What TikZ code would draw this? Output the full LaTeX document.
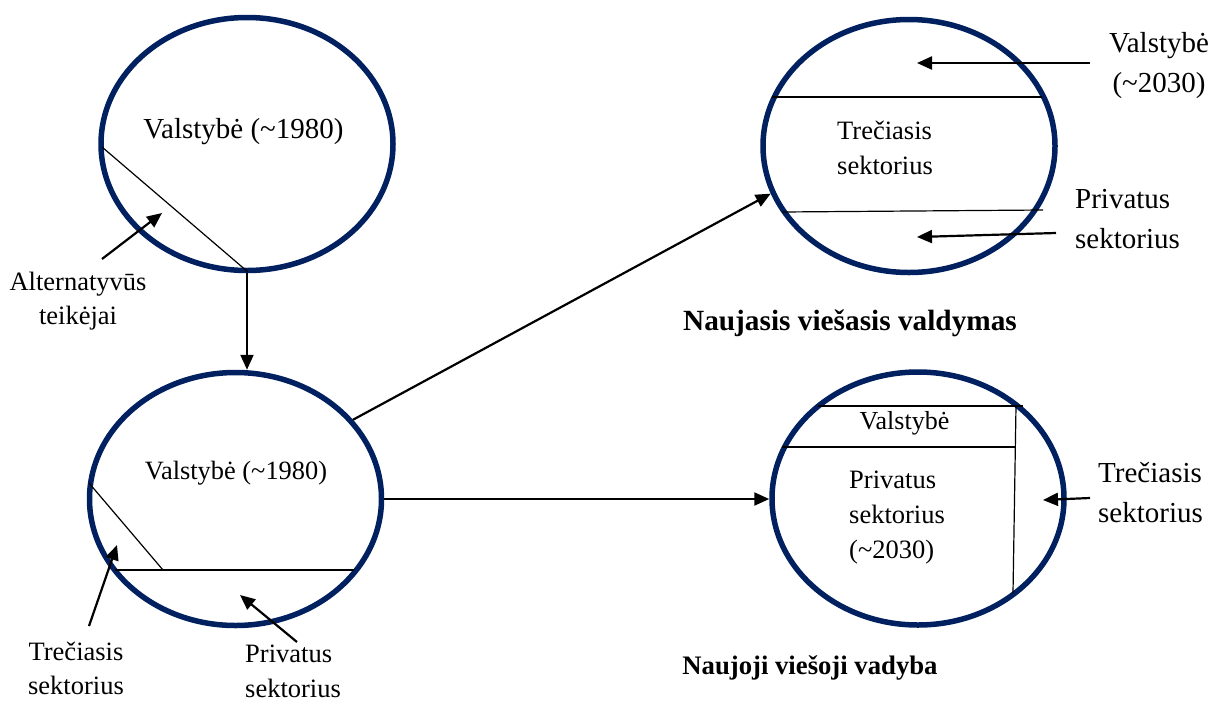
\documentclass[tikz,border=0pt]{standalone}
\usepackage{fontspec}
\setmainfont{Liberation Serif}
\usetikzlibrary{shapes.geometric,arrows.meta}
\definecolor{navy}{RGB}{0,32,96}
\begin{document}
\begin{tikzpicture}[x=1pt,y=-1pt,
  ell/.style={ellipse,draw=navy,line width=5.5pt,inner sep=0pt,minimum width=292pt,minimum height=253pt},
  arr/.style={line width=2.2pt,-{Triangle[length=15pt,width=13pt]}},
  divline/.style={line width=1.2pt},
  lblA/.style={inner sep=0pt,font=\fontsize{26.5}{34}\selectfont,align=center},
  lblL/.style={inner sep=0pt,font=\fontsize{26.5}{35}\selectfont,align=left},
  lblB/.style={inner sep=0pt,font=\fontsize{29}{40}\selectfont,align=left},
  title/.style={inner sep=0pt,font=\fontsize{29.3}{36}\selectfont\bfseries}
]
\useasboundingbox (0,0) rectangle (1213,702);

% ellipses
\node[ell] (E1) at (247,144) {};
\node[ell] (E2) at (235.5,499) {};
\node[ell] (E3) at (909,146) {};
\node[ell] (E4) at (918,498.5) {};

% division lines
\draw[divline] (102,147) -- (248,272);
\draw[divline] (89,483) -- (163,570);
\draw[divline] (115,570) -- (354,570);
\draw[divline] (772,97) -- (1042,97);
\draw[divline] (782,212) -- (1043,210);
\draw[divline] (818,406) -- (1023,406);
\draw[divline] (782,447) -- (1015,447);
\draw[divline] (1016,406) -- (1013,593);

% texts inside ellipses
\node[inner sep=0pt,font=\fontsize{29}{36}\selectfont] (t1) at (243.5,132) {Valstybė (\textasciitilde1980)};
\node[inner sep=0pt,font=\fontsize{26.4}{34}\selectfont] (t2) at (236,473) {Valstybė (\textasciitilde1980)};
\node[lblL,anchor=west] (t3) at (837,148) {Trečiasis\\sektorius};
\node[inner sep=0pt,font=\fontsize{26}{34}\selectfont] (t4a) at (904.5,423) {Valstybė};
\node[lblL,anchor=west] (t4b) at (849,518) {Privatus\\sektorius\\(\textasciitilde2030)};

% outside labels
\node[lblA] (alt) at (78,301) {Alternatyvūs\\teikėjai};
\node[lblA] (tre2) at (76,668) {Trečiasis\\sektorius};
\node[lblL,anchor=west] (pri2) at (245,671) {Privatus\\sektorius};
\node[lblB,align=center] (val3) at (1159,66) {Valstybė\\(\textasciitilde2030)};
\node[lblB,anchor=west] (pri3) at (1075,219.5) {Privatus\\sektorius};
\node[lblB,anchor=west] (tre4) at (1098,493) {Trečiasis\\sektorius};

% titles
\node[title] (nvv) at (850,323) {Naujasis viešasis valdymas};
\node[title,font=\fontsize{26.7}{34}\selectfont\bfseries] (nvd) at (810,668) {Naujoji viešoji vadyba};

% connectors between ellipses
\draw[arr] (E1.south) -- (E1.south |- E2.north);
\draw[arr] (E2.34) -- (E3.199);
\draw[arr] (E2.east) -- (E2.east -| E4.west);

% label arrows
\coordinate (a1s) at (102,259); \coordinate (a1t) at (162,213);
\coordinate (a2s) at (89,626);  \coordinate (a2t) at (117,545);
\coordinate (a3s) at (297,642); \coordinate (a3t) at (240,595);
\coordinate (a4s) at (1090,63); \coordinate (a4t) at (917,63);
\coordinate (a5s) at (1056,233); \coordinate (a5t) at (917,237);
\coordinate (a6s) at (1090,498); \coordinate (a6t) at (1043,500);
\draw[arr] (a1s) -- (a1t);
\draw[arr] (a2s) -- (a2t);
\draw[arr] (a3s) -- (a3t);
\draw[arr] (a4s) -- (a4t);
\draw[arr] (a5s) -- (a5t);
\draw[arr] (a6s) -- (a6t);
\end{tikzpicture}
\end{document}
